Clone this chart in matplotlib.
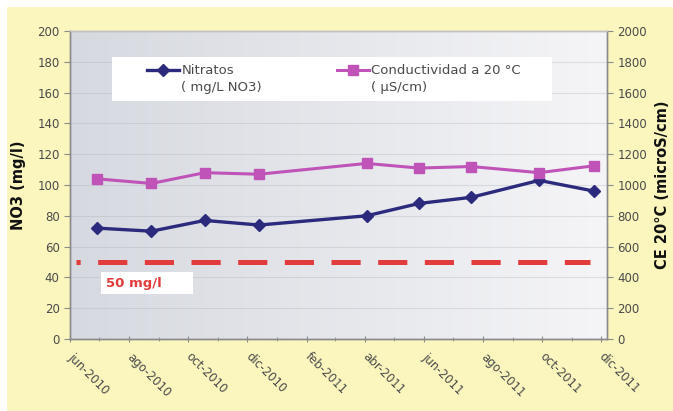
"""Nitratos y conductividad, jun-2010 a dic-2011."""

import datetime as dt

import matplotlib
matplotlib.use('Agg')
import matplotlib.pyplot as plt
import matplotlib.dates as mdates
import matplotlib.ticker as mticker
import numpy as np
from matplotlib.legend_handler import HandlerLine2D
from matplotlib.patches import Rectangle

# --- data ------------------------------------------------------------------
sample_dates = [
    dt.date(2010, 6, 29), dt.date(2010, 8, 24), dt.date(2010, 10, 18),
    dt.date(2010, 12, 13), dt.date(2011, 4, 3), dt.date(2011, 5, 27),
    dt.date(2011, 7, 20), dt.date(2011, 9, 28), dt.date(2011, 11, 24),
]
nitratos = [72, 70, 77, 74, 80, 88, 92, 103, 96]
conductividad = [1040, 1010, 1080, 1070, 1140, 1110, 1120, 1080, 1125]
limite_nitratos = 50

tick_dates = [
    dt.date(2010, 6, 1), dt.date(2010, 8, 1), dt.date(2010, 10, 1),
    dt.date(2010, 12, 1), dt.date(2011, 2, 1), dt.date(2011, 4, 1),
    dt.date(2011, 6, 1), dt.date(2011, 8, 1), dt.date(2011, 10, 1),
    dt.date(2011, 12, 1),
]
tick_labels = ['jun-2010', 'ago-2010', 'oct-2010', 'dic-2010', 'feb-2011',
               'abr-2011', 'jun-2011', 'ago-2011', 'oct-2011', 'dic-2011']

# --- style -----------------------------------------------------------------
YELLOW = '#FAF6BE'
NAVY = '#2B2A7C'
MAGENTA = '#C053B8'
RED = '#E23B3B'
TXT = '#4a4a4a'
SPINE = '#8a8a8a'

plt.rcParams['font.family'] = ['DejaVu Sans']
plt.rcParams['lines.scale_dashes'] = False


class FirstLineHandler(HandlerLine2D):
    """Put the legend handle beside the first line of a two-line label."""

    def create_artists(self, legend, orig_handle, xdescent, ydescent,
                       width, height, fontsize, trans):
        return super().create_artists(legend, orig_handle, xdescent,
                                      ydescent - 1.4 * fontsize, width, height,
                                      fontsize, trans)


W, H = 673, 411
fig = plt.figure(figsize=(W / 100, H / 100), dpi=100, facecolor='white')
fig.patches.append(Rectangle((7 / W, 0), 1, 1 - 7 / H, transform=fig.transFigure,
                             facecolor=YELLOW, edgecolor='none', zorder=-10))

ax = fig.add_axes([70 / W, 1 - 339 / H, 537 / W, 308 / H])
ax.set_facecolor('none')

# gradient plot background, darker on the left
grad = np.linspace(0, 1, 256).reshape(1, -1)
cmap = matplotlib.colors.LinearSegmentedColormap.from_list('bg', ['#d6d9e0', '#f5f5f7'])
ax.imshow(grad, extent=[0, 1, 0, 1], transform=ax.transAxes, cmap=cmap,
          aspect='auto', zorder=-5)

ax2 = ax.twinx()

# nitrate series (left axis)
ax.plot(sample_dates, nitratos, color=NAVY, lw=2.4, marker='D', ms=6.5,
        mec=NAVY, mfc=NAVY, label='Nitratos\n( mg/L NO3)', zorder=4)
# conductivity series (right axis)
ax2.plot(sample_dates, conductividad, color=MAGENTA, lw=2.2, marker='s', ms=7,
         mec=MAGENTA, mfc=MAGENTA, label='Conductividad a 20 °C\n( µS/cm)', zorder=4)

# limit line
ax.axhline(limite_nitratos, xmin=(76 - 70) / 537, xmax=(590 - 70) / 537,
           color=RED, lw=3.6, linestyle=(18, (21, 12.6)), zorder=3)
ax.add_patch(Rectangle((31 / 537, (339 - 294) / 308), 92 / 537, 22 / 308,
                       transform=ax.transAxes, facecolor='white',
                       edgecolor='none', zorder=3))
ax.text(36 / 537, (339 - 283) / 308, f'{limite_nitratos} mg/l', transform=ax.transAxes,
        color=RED, fontsize=9.5, fontweight='bold', va='center', ha='left', zorder=4)

# axes limits and ticks
ax.set_ylim(0, 200)
ax2.set_ylim(0, 2000)
ax.set_xlim(dt.date(2010, 6, 1), dt.date(2011, 12, 7))
ax.yaxis.set_major_locator(mticker.MultipleLocator(20))
ax2.yaxis.set_major_locator(mticker.MultipleLocator(200))
ax.set_xticks(tick_dates)
ax.set_xticklabels(tick_labels, rotation=-45, ha='left', va='center',
                   rotation_mode='anchor', fontsize=9)
ax.xaxis.set_minor_locator(mdates.MonthLocator())

ax.grid(axis='y', color='#a8aab4', alpha=0.3, lw=0.8)
ax.set_axisbelow(True)

for a in (ax, ax2):
    for s in a.spines.values():
        s.set_color(SPINE)
        s.set_linewidth(1.0)
    a.spines['top'].set_color('#c0c0c0')
    a.tick_params(colors=SPINE, labelcolor=TXT, labelsize=8.5, length=4, width=0.8)
ax.tick_params(axis='x', which='major', length=5, direction='inout', pad=9)
ax.tick_params(axis='x', which='minor', length=3, direction='inout', color=SPINE)

ax.set_ylabel('NO3 (mg/l)', fontsize=10.5, fontweight='bold', color='#111111', labelpad=8)
ax2.set_ylabel('CE 20°C (microS/cm)', fontsize=10.5, fontweight='bold', color='#111111',
               labelpad=6)

# white legend panel, then the legend entries on top of it
ax2.add_patch(Rectangle((42 / 537, (339 - 101) / 308), 440 / 537, 44 / 308,
                        transform=ax2.transAxes, facecolor='white',
                        edgecolor='none', zorder=5))
h1, l1 = ax.get_legend_handles_labels()
h2, l2 = ax2.get_legend_handles_labels()
leg = ax2.legend(h1 + h2, l1 + l2, ncol=2, loc='upper left',
                 bbox_to_anchor=(77 / 537, (339 - 64) / 308),
                 frameon=False, fontsize=9.5, handlelength=2.4, handletextpad=0.2,
                 borderaxespad=0, borderpad=0, columnspacing=5.7,
                 handler_map={h: FirstLineHandler() for h in h1 + h2})
leg.set_zorder(6)
for t in leg.get_texts():
    t.set_color(TXT)
    t.set_linespacing(1.45)

fig.savefig('out.png', dpi=100, facecolor=fig.get_facecolor())
